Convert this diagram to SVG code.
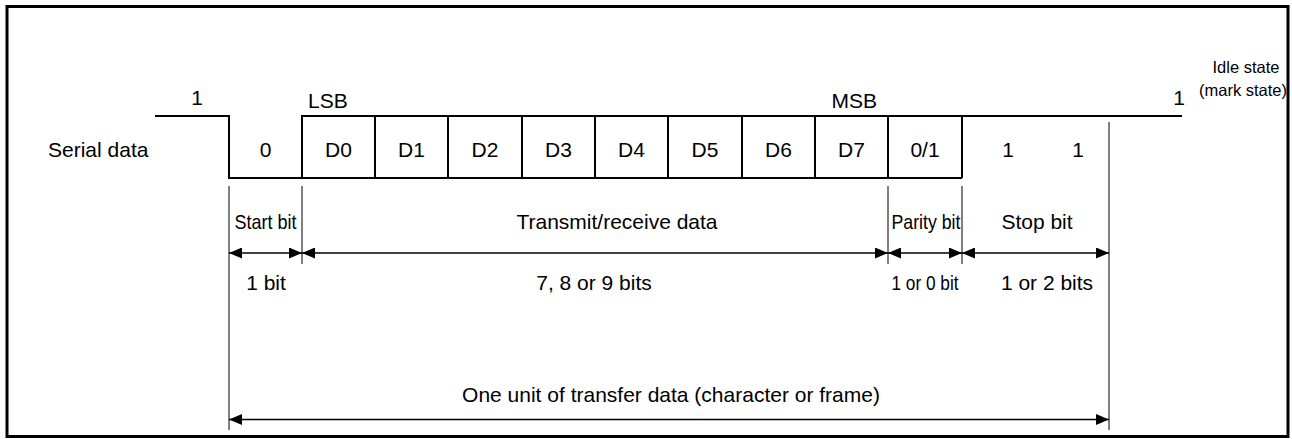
<svg xmlns="http://www.w3.org/2000/svg" width="1292" height="439" viewBox="0 0 1292 439">
<style>
text{font-family:"Liberation Sans",Arial,sans-serif;font-size:21px;fill:#000}
.c{text-anchor:middle}
.sig{fill:none;stroke:#000;stroke-width:2}
.ext{fill:none;stroke:#000;stroke-width:1}
.dim{fill:none;stroke:#000;stroke-width:1.3;marker-start:url(#ah);marker-end:url(#ah)}
.idle{font-size:16.5px}
</style>
<defs>
<marker id="ah" viewBox="0 0 13 11" refX="13" refY="5.5" markerWidth="13" markerHeight="11" markerUnits="userSpaceOnUse" orient="auto-start-reverse">
<path d="M0,0 L13,5.5 L0,11 Z" fill="#000"/>
</marker>
</defs>
<rect x="7" y="6.5" width="1281" height="430" fill="#fff" stroke="#000" stroke-width="3"/>
<g id="signal">
<path class="sig" d="M155,116 H229 V178 H962"/>
<path class="sig" d="M302,178 V116 H1182"/>
<path class="sig" d="M375,116 V178 M448,116 V178 M522,116 V178 M595,116 V178 M668,116 V178 M742,116 V178 M815,116 V178 M888,116 V178 M962,116 V178"/>
<text x="197" y="105" class="c">1</text>
<text x="1179" y="105" class="c">1</text>
<text x="308" y="108">LSB</text>
<text x="877" y="108" text-anchor="end">MSB</text>
<text x="48" y="157">Serial data</text>
</g>
<g id="idle">
<text x="1246" y="73" class="idle c">Idle state</text>
<text x="1243" y="96" class="idle c">(mark state)</text>
</g>
<g id="bits">
<text x="265.5" y="157" class="c">0</text>
<text x="338.5" y="157" class="c">D0</text>
<text x="411.5" y="157" class="c">D1</text>
<text x="485" y="157" class="c">D2</text>
<text x="558.5" y="157" class="c">D3</text>
<text x="631.5" y="157" class="c">D4</text>
<text x="705" y="157" class="c">D5</text>
<text x="778.5" y="157" class="c">D6</text>
<text x="851.5" y="157" class="c">D7</text>
<text x="925" y="157" class="c">0/1</text>
<text x="1008" y="157" class="c">1</text>
<text x="1078" y="157" class="c">1</text>
</g>
<g id="connectors">
<path class="ext" d="M229,186 V430 M302,186 V264 M888,186 V264 M962,186 V264 M1109,122 V430"/>
<path class="dim" d="M229,253 H302"/>
<path class="dim" d="M302,253 H888"/>
<path class="dim" d="M888,253 H962"/>
<path class="dim" d="M962,253 H1109"/>
<path class="dim" d="M229,419.5 H1109"/>
</g>
<g id="labels">
<text x="265.5" y="229" class="c" textLength="62" lengthAdjust="spacingAndGlyphs">Start bit</text>
<text x="617" y="229" class="c">Transmit/receive data</text>
<text x="926" y="229" class="c" textLength="69" lengthAdjust="spacingAndGlyphs">Parity bit</text>
<text x="1037" y="229" class="c">Stop bit</text>
<text x="266" y="290" class="c">1 bit</text>
<text x="594" y="290" class="c">7, 8 or 9 bits</text>
<text x="925" y="290" class="c" textLength="67" lengthAdjust="spacingAndGlyphs">1 or 0 bit</text>
<text x="1047" y="290" class="c">1 or 2 bits</text>
<text x="671" y="402" class="c">One unit of transfer data (character or frame)</text>
</g>
</svg>
